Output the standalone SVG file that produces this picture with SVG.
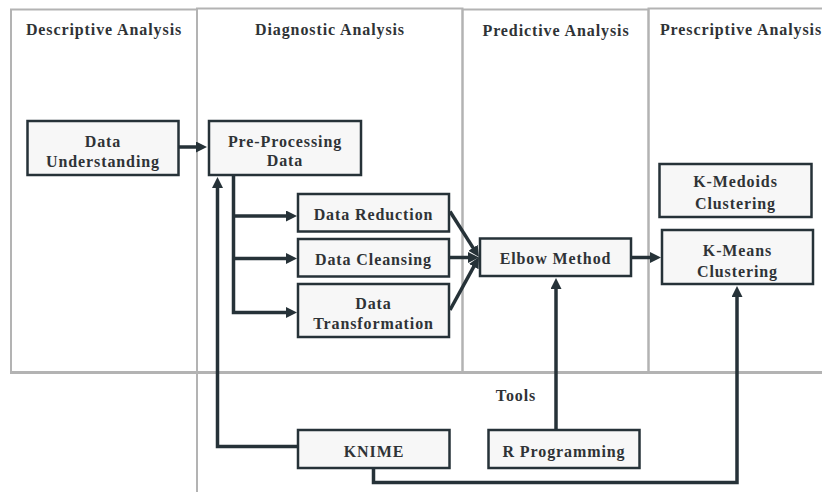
<svg xmlns="http://www.w3.org/2000/svg" width="822" height="492" viewBox="0 0 822 492">
  <style>
    .lane { fill: none; stroke: #b3b3b3; stroke-width: 2; }
    .box { fill: #f7f7f7; stroke: #263238; stroke-width: 2.5; }
    .lbl { font-family: 'Liberation Serif', 'DejaVu Serif', serif; font-weight: 700; font-size: 16px; letter-spacing: 0.9px; fill: #2f3336; text-anchor: middle; }
    .conn { fill: none; stroke: #263238; stroke-width: 3.5; stroke-linejoin: miter; }
  </style>
  <defs>
    <marker id="arrow" markerUnits="userSpaceOnUse" markerWidth="12" markerHeight="12" refX="1" refY="5.5" orient="auto">
      <path d="M0,0 L11,5.5 L0,11 z" fill="#263238"/>
    </marker>
  </defs>

  <rect width="822" height="492" fill="#ffffff"/>

  <!-- swimlanes -->
  <g id="lanes">
    <rect class="lane" x="11" y="9.5" width="186" height="362.5"/>
    <rect class="lane" x="197" y="8.5" width="265.5" height="363.5"/>
    <rect class="lane" x="462.5" y="9.5" width="186" height="362.5"/>
    <rect class="lane" x="648.5" y="8.5" width="180" height="363.5"/>
    <line x1="197" y1="372" x2="197" y2="492" stroke="#b3b3b3" stroke-width="2"/>
    <line x1="10" y1="372.5" x2="822" y2="372.5" stroke="#b3b3b3" stroke-width="3"/>
    <text class="lbl" x="104" y="35" font-family="Liberation Serif">Descriptive Analysis</text>
    <text class="lbl" x="330" y="34.5">Diagnostic Analysis</text>
    <text class="lbl" x="556" y="35.5">Predictive Analysis</text>
    <text class="lbl" x="741" y="34.5">Prescriptive Analysis</text>
    <text class="lbl" x="516" y="401">Tools</text>
  </g>

  <!-- connectors -->
  <g id="connectors">
    <path class="conn" d="M179,147 H197" marker-end="url(#arrow)"/>
    <path class="conn" d="M233.5,175 V312.5 H287" marker-end="url(#arrow)"/>
    <path class="conn" d="M233.5,216 H287" marker-end="url(#arrow)"/>
    <path class="conn" d="M233.5,258.5 H287" marker-end="url(#arrow)"/>
    <path class="conn" d="M450,211.5 L473.6,248.6" marker-end="url(#arrow)"/>
    <path class="conn" d="M450,257.5 H469" marker-end="url(#arrow)"/>
    <path class="conn" d="M450,310 L474.2,265.8" marker-end="url(#arrow)"/>
    <path class="conn" d="M632,257.5 H651" marker-end="url(#arrow)"/>
    <path class="conn" d="M297,446.5 H217.5 V187" marker-end="url(#arrow)"/>
    <path class="conn" d="M556,429 V288" marker-end="url(#arrow)"/>
    <path class="conn" d="M373.5,469 V482.5 H737 V296" marker-end="url(#arrow)"/>
  </g>

  <!-- nodes -->
  <g id="data-understanding">
    <rect class="box" x="27.5" y="121" width="151" height="54"/>
    <text class="lbl" x="103" y="147">Data</text>
    <text class="lbl" x="103" y="167">Understanding</text>
  </g>
  <g id="pre-processing">
    <rect class="box" x="209" y="121" width="152" height="54"/>
    <text class="lbl" x="285" y="146.5">Pre-Processing</text>
    <text class="lbl" x="285" y="166">Data</text>
  </g>
  <g id="data-reduction">
    <rect class="box" x="298" y="194" width="151" height="37.5"/>
    <text class="lbl" x="373.5" y="220">Data Reduction</text>
  </g>
  <g id="data-cleansing">
    <rect class="box" x="298" y="239" width="151" height="37.5"/>
    <text class="lbl" x="373.5" y="265">Data Cleansing</text>
  </g>
  <g id="data-transformation">
    <rect class="box" x="298" y="284" width="151" height="53"/>
    <text class="lbl" x="373.5" y="308.5">Data</text>
    <text class="lbl" x="373.5" y="328.5">Transformation</text>
  </g>
  <g id="elbow-method">
    <rect class="box" x="480" y="238.5" width="151" height="37.5"/>
    <text class="lbl" x="555.5" y="264">Elbow Method</text>
  </g>
  <g id="k-medoids">
    <rect class="box" x="659.5" y="164" width="152" height="53"/>
    <text class="lbl" x="735.5" y="187">K-Medoids</text>
    <text class="lbl" x="735.5" y="208.5">Clustering</text>
  </g>
  <g id="k-means">
    <rect class="box" x="662" y="230" width="151" height="54"/>
    <text class="lbl" x="737.5" y="255.5">K-Means</text>
    <text class="lbl" x="737.5" y="276.5">Clustering</text>
  </g>
  <g id="knime">
    <rect class="box" x="298" y="430" width="151.5" height="38"/>
    <text class="lbl" x="374" y="456.5">KNIME</text>
  </g>
  <g id="r-programming">
    <rect class="box" x="488.5" y="430" width="151" height="38"/>
    <text class="lbl" x="564" y="456.5">R Programming</text>
  </g>
</svg>
